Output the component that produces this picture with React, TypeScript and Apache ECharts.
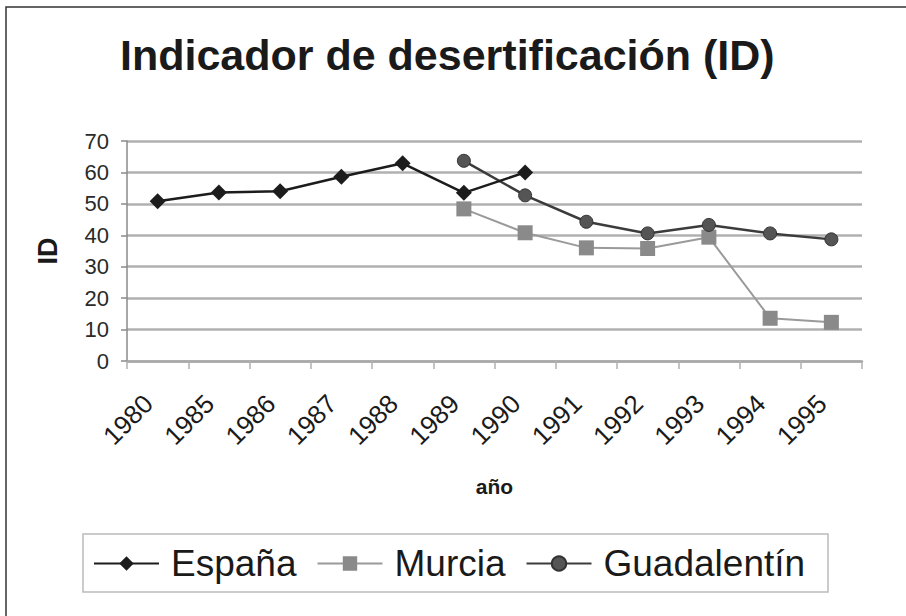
import React, { useEffect, useRef } from "react";
import * as echarts from "echarts";

const categories = ["1980", "1985", "1986", "1987", "1988", "1989", "1990", "1991", "1992", "1993", "1994", "1995"];
const espana = [50.8, 53.6, 54.0, 58.6, 62.9, 53.5, 60.0, null, null, null, null, null];
const murcia = [null, null, null, null, null, 48.4, 40.8, 36.0, 35.8, 39.4, 13.6, 12.3];
const guadalentin = [null, null, null, null, null, 63.7, 52.7, 44.3, 40.6, 43.3, 40.6, 38.7];
const yMin = 0;
const yMax = 70;
const yStep = 10;

const FONT = "'Liberation Sans', Arial, sans-serif";

export default function App() {
  const ref = useRef<HTMLDivElement>(null);
  useEffect(() => {
    if (!ref.current) return;
    const chart = echarts.init(ref.current, null, { renderer: "svg" });
    chart.setOption({
      animation: false,
      backgroundColor: "#ffffff",
      textStyle: { fontFamily: FONT },
      title: {
        text: "Indicador de desertificación (ID)",
        left: 120,
        top: 33,
        padding: 0,
        textStyle: { fontFamily: FONT, fontSize: 43, fontWeight: "bold", color: "#1a1a1a" },
      },
      grid: { left: 127, right: 44, top: 141, bottom: 255, containLabel: false },
      legend: {
        left: 93,
        top: 545,
        padding: 0,
        itemWidth: 65,
        itemHeight: 18,
        itemGap: 20,
        textStyle: { fontFamily: FONT, fontSize: 37, color: "#1a1a1a", padding: [0, 0, 0, 7] },
        data: ["España", "Murcia", "Guadalentín"],
      },
      xAxis: {
        type: "category",
        data: categories,
        boundaryGap: true,
        name: "año",
        nameLocation: "middle",
        nameGap: 115,
        nameTextStyle: { fontFamily: FONT, fontSize: 21, fontWeight: "bold", color: "#1a1a1a" },
        axisLine: { lineStyle: { color: "#a8a8a8", width: 2.5 } },
        axisTick: { show: true, alignWithLabel: false, length: 8, lineStyle: { color: "#b0b0b0", width: 1.5 } },
        axisLabel: {
          rotate: 45,
          margin: 29,
          padding: [0, 13, 0, 0],
          fontFamily: FONT,
          fontSize: 26,
          color: "#1a1a1a",
          interval: 0,
        },
        splitLine: { show: false },
      },
      yAxis: {
        type: "value",
        min: yMin,
        max: yMax,
        interval: yStep,
        name: "ID",
        nameLocation: "middle",
        nameGap: 66,
        nameRotate: 90,
        nameTextStyle: { fontFamily: FONT, fontSize: 27, fontWeight: "bold", color: "#1a1a1a" },
        axisLine: { show: true, lineStyle: { color: "#8a8a8a", width: 1.5 } },
        axisTick: { show: true, length: 6, lineStyle: { color: "#8a8a8a", width: 1.5 } },
        axisLabel: { margin: 18, fontFamily: FONT, fontSize: 22, color: "#2a2a2a" },
        splitLine: { show: true, lineStyle: { color: "#b0b0b0", width: 2.5 } },
      },
      series: [
        {
          name: "España",
          type: "line",
          data: espana,
          symbol: "diamond",
          symbolSize: 16,
          connectNulls: false,
          lineStyle: { color: "#1c1c1c", width: 2.5 },
          itemStyle: { color: "#1c1c1c" },
          z: 3,
        },
        {
          name: "Murcia",
          type: "line",
          data: murcia,
          symbol: "rect",
          symbolSize: 15,
          lineStyle: { color: "#9a9a9a", width: 2 },
          itemStyle: { color: "#8a8a8a" },
          z: 2,
        },
        {
          name: "Guadalentín",
          type: "line",
          data: guadalentin,
          symbol: "circle",
          symbolSize: 13,
          lineStyle: { color: "#3c3c3c", width: 2.5 },
          itemStyle: { color: "#555555", borderColor: "#333333", borderWidth: 1 },
          z: 2,
        },
      ],
      graphic: [
        {
          type: "polyline",
          shape: { points: [[6, 616], [6, 7], [906, 7]] },
          style: { stroke: "#333333", lineWidth: 1.5, fill: "none" },
          silent: true,
        },
        {
          type: "rect",
          shape: { x: 83, y: 534, width: 745, height: 58 },
          style: { stroke: "#bbbbbb", lineWidth: 1.5, fill: "none" },
          silent: true,
          z: -1,
        },
      ],
    });
    return () => chart.dispose();
  }, []);
  return (
    <div
      ref={ref}
      style={{ position: "fixed", left: 0, top: 0, width: 906, height: 616 }}
    />
  );
}
